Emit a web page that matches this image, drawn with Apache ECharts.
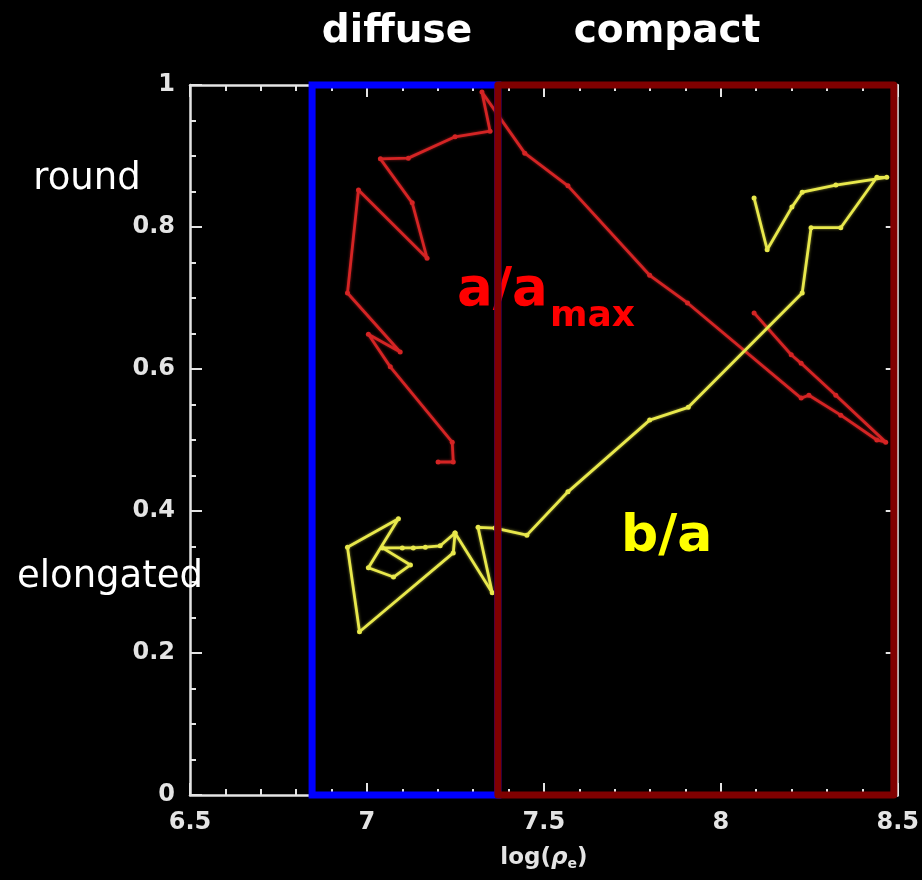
<!DOCTYPE html>
<html><head><meta charset="utf-8">
<script src="https://cdn.jsdelivr.net/npm/echarts@6/dist/echarts.min.js"></script>
<style>html,body{margin:0;padding:0;background:#000;}#c{width:922px;height:880px;}</style>
</head><body><div id="c"></div>
<script>
// ---- tick values ----
const xTicks = [6.5, 7, 7.5, 8, 8.5];
const yTicks = [0, 0.2, 0.4, 0.6, 0.8, 1];

// ---- text ----
const regionLabels = ['diffuse', 'compact'];
const shapeLabels = ['round', 'elongated'];
const aLabelMain = 'a/a', aLabelSub = 'max';
const bLabel = 'b/a';

// ---- a/a_max (red) ----
const aRatioX = [7.201, 7.244, 7.241, 7.066, 7.004, 7.094, 6.945, 6.976, 7.170, 7.128, 7.038, 7.117, 7.249, 7.348, 7.325, 7.446, 7.568, 7.799, 7.906, 8.227, 8.249, 8.339, 8.441, 8.466, 8.325, 8.227, 8.199, 8.094];
const aRatioY = [0.469, 0.469, 0.497, 0.603, 0.649, 0.624, 0.707, 0.852, 0.756, 0.834, 0.896, 0.897, 0.927, 0.935, 0.990, 0.904, 0.858, 0.732, 0.693, 0.559, 0.563, 0.535, 0.500, 0.497, 0.563, 0.608, 0.620, 0.679];

// ---- b/a (yellow) ----
const baRatioX = [7.249, 7.207, 7.165, 7.131, 7.100, 7.044, 7.123, 7.075, 7.004, 7.089, 6.945, 6.979, 7.244, 7.249, 7.354, 7.314, 7.362, 7.452, 7.568, 7.799, 7.908, 8.230, 8.255, 8.339, 8.441, 8.469, 8.325, 8.230, 8.201, 8.131, 8.094];
const baRatioY = [0.369, 0.351, 0.349, 0.348, 0.348, 0.348, 0.324, 0.307, 0.320, 0.389, 0.349, 0.230, 0.341, 0.369, 0.285, 0.377, 0.376, 0.366, 0.427, 0.528, 0.546, 0.707, 0.799, 0.799, 0.870, 0.870, 0.859, 0.849, 0.828, 0.768, 0.841];

// ---- region boxes ----
const diffuseBoxX = [6.845, 7.370, 7.370, 6.845, 6.845];
const diffuseBoxY = [1, 1, 0, 0, 1];
const compactBoxX = [7.370, 8.489, 8.489, 7.370, 7.370];
const compactBoxY = [1, 1, 0, 0, 1];

const zip = (xs, ys) => xs.map((x, i) => [x, ys[i]]);

const axisColor = '#e4e4e4';
const labelFont = { color: axisColor, fontFamily: 'DejaVu Sans', fontWeight: 'bold', fontSize: 24 };

function xAxisCfg(pos, showLabel) {
  return {
    type: 'value', position: pos,
    min: xTicks[0], max: xTicks[xTicks.length - 1], interval: xTicks[1] - xTicks[0],
    axisLine: { show: true, onZero: false, lineStyle: { color: axisColor, width: 2.5 } },
    axisTick: { show: true, inside: true, length: 12, lineStyle: { color: axisColor, width: 2 } },
    minorTick: { show: true, splitNumber: 5, length: 6, lineStyle: { color: axisColor, width: 2 } },
    splitLine: { show: false },
    axisLabel: Object.assign({ show: showLabel, margin: 16 }, labelFont),
    name: showLabel ? '{n|log(}{i|ρ}{s|e}{n|)}' : '',
    nameLocation: 'middle', nameGap: 50,
    nameTextStyle: {
      rich: {
        n: { color: axisColor, fontFamily: 'DejaVu Sans', fontWeight: 'bold', fontSize: 23 },
        i: { color: axisColor, fontFamily: 'DejaVu Sans', fontWeight: 'bold', fontStyle: 'italic', fontSize: 23 },
        s: { color: axisColor, fontFamily: 'DejaVu Sans', fontWeight: 'bold', fontSize: 14, verticalAlign: 'bottom', padding: [12, 0, 0, 0] }
      }
    }
  };
}
function yAxisCfg(pos, showLabel) {
  return {
    type: 'value', position: pos,
    min: yTicks[0], max: yTicks[yTicks.length - 1], interval: yTicks[1] - yTicks[0],
    axisLine: { show: true, onZero: false, lineStyle: { color: axisColor, width: 2.5 } },
    axisTick: { show: true, inside: true, length: 12, lineStyle: { color: axisColor, width: 2 } },
    minorTick: { show: true, splitNumber: 4, length: 6, lineStyle: { color: axisColor, width: 2 } },
    splitLine: { show: false },
    axisLabel: Object.assign({ show: showLabel, margin: 15 }, labelFont)
  };
}

const chart = echarts.init(document.getElementById('c'));
chart.setOption({
  backgroundColor: '#000',
  animation: false,
  grid: { left: 190, right: 24, top: 85, bottom: 85 },
  xAxis: [xAxisCfg('bottom', true), xAxisCfg('top', false)],
  yAxis: [yAxisCfg('left', true), yAxisCfg('right', false)],
  graphic: [
    { type: 'text', z: 1, x: 397, y: 32, style: { text: regionLabels[0], align: 'center', verticalAlign: 'middle', fill: '#fff', font: 'bold 39px "DejaVu Sans"' } },
    { type: 'text', z: 1, x: 667, y: 32, style: { text: regionLabels[1], align: 'center', verticalAlign: 'middle', fill: '#fff', font: 'bold 39px "DejaVu Sans"' } },
    { type: 'text', z: 1, x: 87, y: 179, style: { text: shapeLabels[0], align: 'center', verticalAlign: 'middle', fill: '#fff', font: '37px "DejaVu Sans"' } },
    { type: 'text', z: 1, x: 110, y: 577, style: { text: shapeLabels[1], align: 'center', verticalAlign: 'middle', fill: '#fff', font: '37px "DejaVu Sans"' } },
    { type: 'text', z: 1, x: 457, y: 291, style: { text: aLabelMain, align: 'left', verticalAlign: 'middle', fill: '#ff0000', font: 'bold 53px "DejaVu Sans"' } },
    { type: 'text', z: 1, x: 550, y: 317, style: { text: aLabelSub, align: 'left', verticalAlign: 'middle', fill: '#ff0000', font: 'bold 36px "DejaVu Sans"' } },
    { type: 'text', z: 1, x: 621, y: 537, style: { text: bLabel, align: 'left', verticalAlign: 'middle', fill: '#ffff00', font: 'bold 52px "DejaVu Sans"' } }
  ],
  series: [
    {
      type: 'line', z: 3, data: zip(aRatioX, aRatioY), clip: false,
      symbol: 'circle', symbolSize: 5, showSymbol: true,
      lineStyle: { color: '#d42424', width: 2.8, shadowColor: 'rgba(220,40,40,0.6)', shadowBlur: 3 },
      itemStyle: { color: '#d42424' }
    },
    {
      type: 'line', z: 3, data: zip(baRatioX, baRatioY), clip: false,
      symbol: 'circle', symbolSize: 5, showSymbol: true,
      lineStyle: { color: '#e8e84c', width: 2.8, shadowColor: 'rgba(232,232,76,0.6)', shadowBlur: 3 },
      itemStyle: { color: '#e8e84c' }
    },
    {
      type: 'line', z: 5, data: zip(diffuseBoxX, diffuseBoxY), clip: false, showSymbol: false, symbol: 'none',
      lineStyle: { color: '#0000ff', width: 7, join: 'miter', cap: 'square' }
    },
    {
      type: 'line', z: 6, data: zip(compactBoxX, compactBoxY), clip: false, showSymbol: false, symbol: 'none',
      lineStyle: { color: '#800000', width: 7, join: 'round', cap: 'round' }
    }
  ]
});
</script>
</body></html>
